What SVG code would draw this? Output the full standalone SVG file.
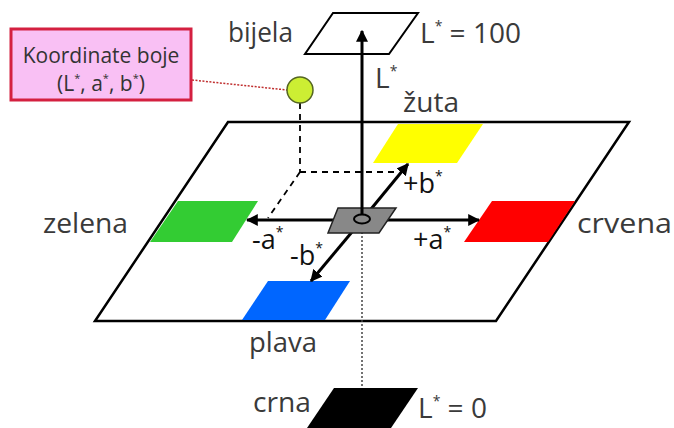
<svg xmlns="http://www.w3.org/2000/svg" width="674" height="428" viewBox="0 0 674 428">
<defs>
<style>
.t{font-family:"Open Sans","Liberation Sans",sans-serif;font-size:28px;fill:#3a3a3a}
.ax{font-family:"Open Sans","Liberation Sans",sans-serif;font-size:27px;fill:#111}
.sup{font-size:14px}
.axis{stroke:#000;stroke-width:3;fill:none}
.dash{stroke:#000;stroke-width:1.8;stroke-dasharray:6 5;fill:none}
</style>
<marker id="arr" viewBox="0 0 10 10" refX="9" refY="5" markerWidth="4" markerHeight="4" orient="auto" markerUnits="strokeWidth">
<path d="M0,0 L10,5 L0,10 z" fill="#000"/>
</marker>
</defs>
<rect width="674" height="428" fill="#fff"/>
<g id="plane">
<polygon points="228,122 629,122 496,321 95,321" fill="#fff" stroke="#000" stroke-width="2.5"/>
</g>
<g id="yellow"><polygon points="398,124 483,124 457,163 373,163" fill="#ffff00"/></g>
<g id="green"><polygon points="178,201 258,201 232,242 150,242" fill="#33cc33"/></g>
<g id="red"><polygon points="492,201 575,201 548,242 464,242" fill="#ff0000"/></g>
<g id="blue"><polygon points="268,281 350,281 325,320 242,320" fill="#0066ff"/></g>
<g id="white"><polygon points="333,13 418,13 389,54 305,54" fill="#fff" stroke="#000" stroke-width="2"/></g>
<g id="black"><polygon points="334,388 418,388 391,428 307,428" fill="#000"/></g>
<g id="connectors">
<line x1="300" y1="103" x2="300" y2="172" class="dash"/>
<line x1="300" y1="172" x2="397" y2="172" class="dash"/>
<line x1="300" y1="172" x2="268" y2="218" class="dash"/>
<line x1="362" y1="228" x2="362" y2="388" stroke="#444" stroke-width="1.5" stroke-dasharray="2 2"/>
<line x1="192" y1="80" x2="287" y2="90" stroke="#c03030" stroke-width="1.5" stroke-dasharray="2 1.5"/>
<line x1="362" y1="220" x2="247" y2="220" class="axis" marker-end="url(#arr)"/>
<line x1="362" y1="220" x2="479" y2="220" class="axis" marker-end="url(#arr)"/>
<line x1="362" y1="220" x2="408" y2="164" class="axis" marker-end="url(#arr)"/>
<line x1="362" y1="220" x2="311" y2="281" class="axis" marker-end="url(#arr)"/>
</g>
<g id="center">
<polygon points="338,208 396,208 379,233 328,233" fill="#888" stroke="#222" stroke-width="1.5"/>
<ellipse cx="362" cy="219" rx="8" ry="4.5" fill="none" stroke="#000" stroke-width="2"/>
</g>
<g id="laxis">
<line x1="362" y1="214" x2="362" y2="31" class="axis" marker-end="url(#arr)"/>
</g>
<g id="point"><circle cx="300" cy="90" r="13" fill="#ccee33" stroke="#556622" stroke-width="1.5"/></g>
<g id="label">
<rect x="11" y="29" width="180" height="71" fill="#f9c0f4" stroke="#d42040" stroke-width="3"/>
<text x="101" y="63" text-anchor="middle" class="t" style="font-size:21px;fill:#333">Koordinate boje</text>
<text x="101" y="91" text-anchor="middle" class="t" style="font-size:21px;fill:#333">(L<tspan dy="-9" style="font-size:11px">*</tspan><tspan dy="9">, a</tspan><tspan dy="-9" style="font-size:11px">*</tspan><tspan dy="9">, b</tspan><tspan dy="-9" style="font-size:11px">*</tspan><tspan dy="9">)</tspan></text>
</g>
<g id="texts">
<text x="228" y="42" class="t" textLength="65" lengthAdjust="spacingAndGlyphs">bijela</text>
<text x="420" y="43" class="t">L<tspan dy="-12" class="sup">*</tspan><tspan dy="12"> = 100</tspan></text>
<text x="375" y="88" class="t">L<tspan dy="-12" class="sup">*</tspan></text>
<text x="403" y="112" class="t" textLength="56" lengthAdjust="spacingAndGlyphs">žuta</text>
<text x="43" y="233" class="t" textLength="85" lengthAdjust="spacingAndGlyphs">zelena</text>
<text x="577" y="233" class="t" textLength="95" lengthAdjust="spacingAndGlyphs">crvena</text>
<text x="249" y="352" class="t" textLength="68" lengthAdjust="spacingAndGlyphs">plava</text>
<text x="253" y="412" class="t" textLength="58" lengthAdjust="spacingAndGlyphs">crna</text>
<text x="418" y="418" class="t">L<tspan dy="-12" class="sup">*</tspan><tspan dy="12"> = 0</tspan></text>
<text x="252" y="249" class="ax">-a<tspan dy="-12" class="sup">*</tspan></text>
<text x="413" y="249" class="ax">+a<tspan dy="-12" class="sup">*</tspan></text>
<text x="403" y="193" class="ax">+b<tspan dy="-12" class="sup">*</tspan></text>
<text x="290" y="265" class="ax">-b<tspan dy="-12" class="sup">*</tspan></text>
</g>
</svg>
